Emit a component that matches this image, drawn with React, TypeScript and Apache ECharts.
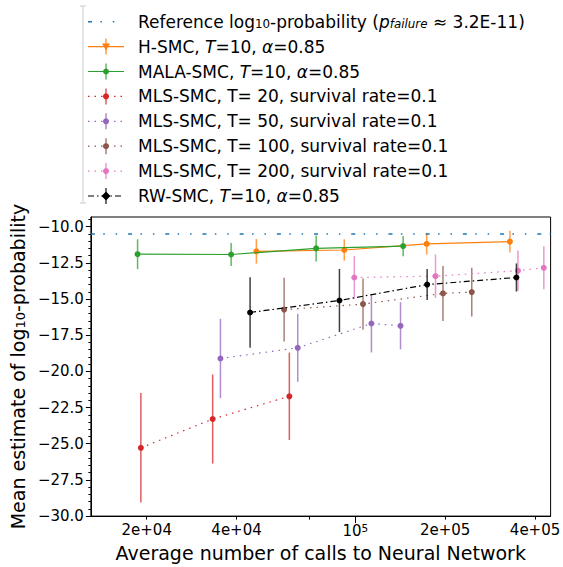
import React, { useEffect, useRef } from "react";
import * as echarts from "echarts";

// ---- data ----
const refLog10Prob = -10.49;

const hCalls = [46600, 91800, 173400, 329500];
const hMean = [-11.7, -11.61, -11.19, -11.03];
const hErr = [0.85, 0.74, 0.74, 0.75];

const malaCalls = [18640, 38360, 73900, 144600];
const malaMean = [-11.9, -11.92, -11.5, -11.34];
const malaErr = [1.03, 0.8, 0.9, 0.7];

const mls20Calls = [19120, 33270, 60100];
const mls20Mean = [-25.28, -23.29, -21.72];
const mls20Err = [3.78, 3.08, 3.02];

const mls50Calls = [35320, 64120, 113200, 141700];
const mls50Mean = [-19.11, -18.37, -16.69, -16.85];
const mls50Err = [2.74, 2.35, 2.0, 1.63];

const mls100Calls = [57730, 106100, 196600, 245500];
const mls100Mean = [-15.73, -15.35, -14.61, -14.52];
const mls100Err = [2.2, 1.77, 1.9, 1.68];

const mls200Calls = [99200, 185600, 350600, 428000];
const mls200Mean = [-13.51, -13.42, -13.04, -12.84];
const mls200Err = [1.48, 1.5, 1.4, 1.49];

const rwCalls = [44400, 88450, 174000, 346400];
const rwMean = [-15.93, -15.1, -14.0, -13.51];
const rwErr = [2.43, 2.18, 1.07, 0.97];

const xTickValues = [20000, 40000, 70000, 100000, 200000, 400000];
const xLabelValues = [20000, 40000, 100000, 200000, 400000];
const xLabelTexts = ["2e+04", "4e+04", "10{sup|5}", "2e+05", "4e+05"];
const yTickLabels = [-30, -27.5, -25, -22.5, -20, -17.5, -15, -12.5, -10];

const refName = "Reference log{sub|10}-probability ({it|p}{itsub|failure} ≈ 3.2E-11)";

const FONT = "DejaVu Sans";

type Method = {
  name: string;
  calls: number[];
  mean: number[];
  err: number[];
  color: string;
  dash: any;
  marker: "circle" | "tri" | "diamond";
};

const methods: Method[] = [
  { name: "H-SMC, {it|T}=10, {it|α}=0.85", calls: hCalls, mean: hMean, err: hErr, color: "#ff7f0e", dash: "solid", marker: "tri" },
  { name: "MALA-SMC, {it|T}=10, {it|α}=0.85", calls: malaCalls, mean: malaMean, err: malaErr, color: "#2ca02c", dash: "solid", marker: "circle" },
  { name: "MLS-SMC, T= 20, survival rate=0.1", calls: mls20Calls, mean: mls20Mean, err: mls20Err, color: "#d62728", dash: [1.5, 5], marker: "circle" },
  { name: "MLS-SMC, T= 50, survival rate=0.1", calls: mls50Calls, mean: mls50Mean, err: mls50Err, color: "#9467bd", dash: [1.5, 5], marker: "circle" },
  { name: "MLS-SMC, T= 100, survival rate=0.1", calls: mls100Calls, mean: mls100Mean, err: mls100Err, color: "#8c564b", dash: [1.5, 5], marker: "circle" },
  { name: "MLS-SMC, T= 200, survival rate=0.1", calls: mls200Calls, mean: mls200Mean, err: mls200Err, color: "#e377c2", dash: [1.5, 5], marker: "circle" },
  { name: "RW-SMC, {it|T}=10, {it|α}=0.85", calls: rwCalls, mean: rwMean, err: rwErr, color: "#000000", dash: [6, 3, 1.5, 3], marker: "diamond" },
];

const refDash = [4, 8.4, 1.5, 10.9, 1.5, 10.9];

const richText = (fs: number) => ({
  sub: { fontSize: fs * 0.7, fontFamily: FONT, verticalAlign: "bottom", color: "#000" },
  it: { fontSize: fs, fontFamily: FONT, fontStyle: "italic", color: "#000" },
  itsub: { fontSize: fs * 0.7, fontFamily: FONT, fontStyle: "italic", verticalAlign: "bottom", color: "#000" },
  n: { fontSize: fs, fontFamily: FONT, color: "#000" },
});

function markerSymbol(m: Method["marker"]) {
  if (m === "tri") return { symbol: "triangle", symbolRotate: 180, symbolSize: 8 };
  if (m === "diamond") return { symbol: "rect", symbolRotate: 45, symbolSize: 6 };
  return { symbol: "circle", symbolSize: 6 };
}

function legendMarker(m: Method, cx: number, cy: number): any {
  if (m.marker === "tri")
    return { type: "polygon", shape: { points: [[cx - 4, cy - 3], [cx + 4, cy - 3], [cx, cy + 4]] }, style: { fill: m.color } };
  if (m.marker === "diamond")
    return { type: "polygon", shape: { points: [[cx, cy - 4.5], [cx + 4.5, cy], [cx, cy + 4.5], [cx - 4.5, cy]] }, style: { fill: m.color } };
  return { type: "circle", shape: { cx, cy, r: 3 }, style: { fill: m.color } };
}

export default function App() {
  const ref = useRef<HTMLDivElement>(null);
  useEffect(() => {
    if (!ref.current) return;
    const chart = echarts.init(ref.current, null, { renderer: "svg" });

    const series: any[] = [
      {
        type: "line",
        data: [],
        silent: true,
        markLine: {
          silent: true,
          symbol: "none",
          label: { show: false },
          lineStyle: { color: "#1f77b4", width: 1.5, type: refDash },
          data: [{ yAxis: refLog10Prob }],
        },
      },
    ];

    methods.forEach((m, idx) => {
      series.push({
        type: "custom",
        clip: true,
        z: 2 + idx,
        data: m.calls.map((c, i) => [Math.log10(c), m.mean[i] - m.err[i], m.mean[i] + m.err[i]]),
        encode: { x: 0, y: [1, 2] },
        renderItem: (params: any, api: any) => {
          const p1 = api.coord([api.value(0), api.value(1)]);
          const p2 = api.coord([api.value(0), api.value(2)]);
          return {
            type: "line",
            shape: { x1: p1[0], y1: p1[1], x2: p2[0], y2: p2[1] },
            style: { stroke: m.color, lineWidth: 1.5, opacity: 0.75 },
          };
        },
      });
      series.push({
        type: "line",
        z: 2 + idx,
        data: m.calls.map((c, i) => [Math.log10(c), m.mean[i]]),
        ...markerSymbol(m),
        showAllSymbol: true,
        itemStyle: { color: m.color, borderWidth: 0 },
        lineStyle: { color: m.color, width: 1.2, type: m.dash },
      });
    });

    // legend graphic
    const graphics: any[] = [];
    const rowY0 = 21.7;
    const rowStep = 24.9;
    const hx1 = 88;
    const hx2 = 124;
    const hcx = 106;
    const textX = 138;
    const LFS = 17;
    graphics.push({ type: "line", shape: { x1: 83, y1: 6, x2: 83, y2: 203 }, style: { stroke: "#cccccc", lineWidth: 1 } });
    graphics.push({ type: "line", shape: { x1: 80, y1: 6, x2: 86, y2: 6 }, style: { stroke: "#cccccc", lineWidth: 1 } });
    graphics.push({ type: "line", shape: { x1: 80, y1: 203, x2: 86, y2: 203 }, style: { stroke: "#cccccc", lineWidth: 1 } });

    graphics.push({
      type: "line",
      shape: { x1: hx1, y1: rowY0, x2: hx2, y2: rowY0 },
      style: { stroke: "#1f77b4", lineWidth: 1.5, lineDash: refDash },
    });
    graphics.push({
      type: "text",
      x: textX,
      y: rowY0,
      style: { text: refName, rich: richText(LFS), fontSize: LFS, fontFamily: FONT, fill: "#000", verticalAlign: "middle" },
    });
    methods.forEach((m, i) => {
      const y = rowY0 + rowStep * (i + 1);
      graphics.push({
        type: "line",
        shape: { x1: hx1, y1: y, x2: hx2, y2: y },
        style: { stroke: m.color, lineWidth: 1.2, lineDash: m.dash === "solid" ? null : m.dash },
      });
      graphics.push({
        type: "line",
        shape: { x1: hcx, y1: y - 8, x2: hcx, y2: y + 8 },
        style: { stroke: m.color, lineWidth: 1.5, opacity: 0.75 },
      });
      graphics.push(legendMarker(m, hcx, y));
      graphics.push({
        type: "text",
        x: textX,
        y,
        style: { text: m.name, rich: richText(LFS), fontSize: LFS, fontFamily: FONT, fill: "#000", verticalAlign: "middle" },
      });
    });

    const xLabLog = xLabelValues.map((v) => Math.log10(v));

    chart.setOption({
      animation: false,
      textStyle: { fontFamily: FONT },
      grid: { left: 83, right: 7, top: 217, bottom: 42, show: true, borderColor: "#000", borderWidth: 1, backgroundColor: "transparent" },
      xAxis: [
        {
          type: "value",
          min: Math.log10(13000),
          max: Math.log10(451000),
          splitLine: { show: false },
          axisLine: { show: true, onZero: false, lineStyle: { color: "#000" } },
          axisTick: { show: true, length: 3.5, lineStyle: { color: "#000" }, customValues: xTickValues.map((v) => Math.log10(v)) },
          axisLabel: {
            customValues: xLabLog,
            margin: 6,
            fontSize: 15,
            fontFamily: FONT,
            color: "#000",
            formatter: (val: number) => {
              let best = 0;
              xLabLog.forEach((l, i) => {
                if (Math.abs(l - val) < Math.abs(xLabLog[best] - val)) best = i;
              });
              return xLabelTexts[best];
            },
            rich: {
              sup: { fontSize: 10.5, fontFamily: FONT, verticalAlign: "top", color: "#000", padding: [0, 0, 6, 0] },
            },
          },
          name: "Average number of calls to Neural Network",
          nameLocation: "middle",
          nameGap: 22,
          nameTextStyle: { fontSize: 19, fontFamily: FONT, color: "#000" },
        },
        {
          type: "value",
          position: "bottom",
          min: Math.log10(13000),
          max: Math.log10(451000),
          splitLine: { show: false },
          axisLine: { show: false },
          axisLabel: { show: false },
          axisTick: { show: true, length: 7, lineStyle: { color: "#000" }, customValues: [5] },
        },
      ],
      yAxis: {
        type: "value",
        min: -30,
        max: -9.33,
        interval: 2.5,
        splitLine: { show: false },
        axisLine: { show: true, lineStyle: { color: "#000" } },
        axisTick: { show: true, length: 5, lineStyle: { color: "#000" }, customValues: yTickLabels },
        minorTick: { show: true, splitNumber: 5, length: 2.5, lineStyle: { color: "#000" } },
        axisLabel: {
          customValues: yTickLabels,
          margin: 7,
          fontSize: 15,
          fontFamily: FONT,
          color: "#000",
          formatter: (v: number) => (v < 0 ? "\u2212" : "") + Math.abs(v).toFixed(1),
        },
        name: "Mean estimate of log{sub|10}-probability",
        nameLocation: "middle",
        nameGap: 50,
        nameTextStyle: {
          fontSize: 19,
          fontFamily: FONT,
          color: "#000",
          rich: {
            sub: { fontSize: 13, fontFamily: FONT, verticalAlign: "bottom", color: "#000" },
          },
        },
      },
      series,
      graphic: graphics,
    });
    return () => chart.dispose();
  }, []);
  return <div ref={ref} style={{ width: 563, height: 567, position: "absolute", left: 0, top: 0 }} />;
}
